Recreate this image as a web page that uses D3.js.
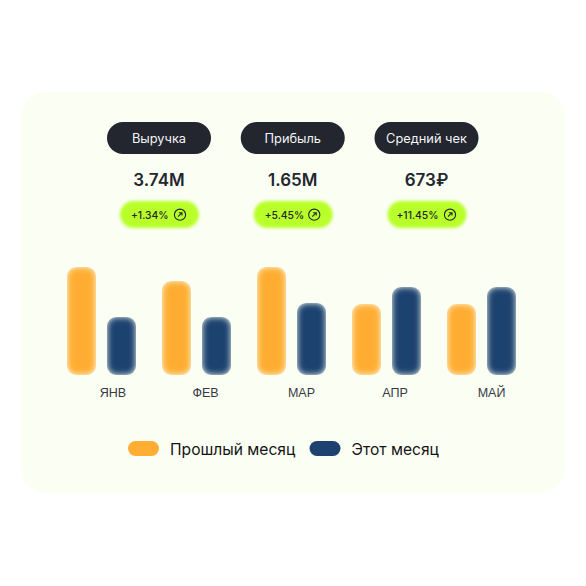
<!DOCTYPE html>
<html><head><meta charset="utf-8">
<script src="https://cdn.jsdelivr.net/npm/d3@7"></script>
<style>html,body{margin:0;padding:0;background:#fff}svg{display:block;font-family:Inter,"Noto Sans",sans-serif}</style>
</head><body><div id="c"></div>
<script>
const months=["ЯНВ","ФЕВ","МАР","АПР","МАЙ"];
const prevMonth=[108,94,108,71,71];
const thisMonth=[58,58,72,88,88];
const metricNames=["Выручка","Прибыль","Средний чек"];
const metricValues=["3.74M","1.65M","673₽"];
const metricDeltas=["+1.34%","+5.45%","+11.45%"];
const seriesNames=["Прошлый месяц","Этот месяц"];
const seriesColors=["#ffad33","#1d426f"];

const svg=d3.select("#c").append("svg").attr("width",586).attr("height",586);
const defs=svg.append("defs");
// Edges fade inward while the rounded outline of the bar stays in place
const bl=defs.append("filter").attr("id","soft").attr("x","-30%").attr("y","-30%").attr("width","160%").attr("height","160%");
bl.append("feGaussianBlur").attr("in","SourceGraphic").attr("stdDeviation",3).attr("result","b");
bl.append("feComposite").attr("in","b").attr("in2","SourceAlpha").attr("operator","in");
const gl=defs.append("filter").attr("id","glow").attr("x","-20%").attr("y","-30%").attr("width","140%").attr("height","160%");
gl.append("feGaussianBlur").attr("stdDeviation",1.6);

svg.append("rect").attr("x",21).attr("y",92).attr("width",544).attr("height",401).attr("rx",24).attr("fill","#fbfff3");

const mx=d3.scalePoint().domain(metricNames).range([159,426.5]);
const m=svg.selectAll("g.metric").data(metricNames).join("g").attr("class","metric")
  .attr("transform",d=>`translate(${mx(d)},0)`);
m.append("rect").attr("x",-52).attr("y",122).attr("width",104).attr("height",32).attr("rx",16).attr("fill","#23262f");
m.append("text").attr("y",142.5).attr("text-anchor","middle").attr("fill","#f4f5f6").attr("font-size",12.8).attr("font-weight",400).text(d=>d);
m.append("text").attr("y",186).attr("text-anchor","middle").attr("fill","#23262f").attr("font-size",17).attr("font-weight",600)
  .text((d,i)=>metricValues[i]);
m.append("rect").attr("x",-39).attr("y",201).attr("width",79).attr("height",27).attr("rx",13.5).attr("fill","#b9ff2c").attr("filter","url(#glow)");
m.append("text").attr("x",-28).attr("y",218.5).attr("fill","#23262f").attr("font-size",10.3).attr("font-weight",500)
  .text((d,i)=>metricDeltas[i]).attr("dx",(d,i)=>i==2?-2:0);
const ic=m.append("g").attr("transform",(d,i)=>`translate(${[21,21.5,23.5][i]},214.7)`)
  .attr("fill","none").attr("stroke","#23262f").attr("stroke-width",1.1);
ic.append("circle").attr("r",5.6);
ic.append("path").attr("d","M-2,2L2,-2M-1.2,-2H2V0.8");

const x0=d3.scaleBand().domain(months).range([67,542]);
const x1=d3.scaleLinear().domain([0,1]).range([0,40]);
const y=d3.scaleLinear().domain([0,108]).range([375,267]);
const barW=29;
[prevMonth,thisMonth].forEach((vals,s)=>{
  svg.append("g").selectAll("rect").data(vals).join("rect")
    .attr("x",(d,i)=>x0(months[i])+x1(s)).attr("y",d=>y(d))
    .attr("width",barW).attr("height",d=>y(0)-y(d)).attr("rx",9)
    .attr("fill",seriesColors[s]).attr("filter","url(#soft)");
});

const xl=d3.scaleBand().domain(months).range([67,542]);
const ax=svg.append("g").attr("transform","translate(0,385)")
  .call(d3.axisBottom(xl).tickSize(0).tickPadding(0));
ax.select(".domain").remove();
ax.selectAll("g.tick").attr("transform",(d,i)=>`translate(${xl(d)+[46,43.5,44.5,43,44.5][i]},0)`);
ax.selectAll("text").attr("font-family","inherit").attr("font-size",12.5).attr("font-weight",300).attr("fill","#353945").attr("y",0).attr("dy","0.95em");

const lg=svg.selectAll("g.lg").data(seriesNames).join("g").attr("class","lg")
  .attr("transform",(d,i)=>`translate(${[128,309.5][i]},0)`);
lg.append("rect").attr("y",441).attr("width",31).attr("height",15).attr("rx",7.5).attr("fill",(d,i)=>seriesColors[i]);
lg.append("text").attr("x",42).attr("y",454.5).attr("font-size",15.6).attr("font-weight",400).attr("fill","#141416").text(d=>d);
</script></body></html>
